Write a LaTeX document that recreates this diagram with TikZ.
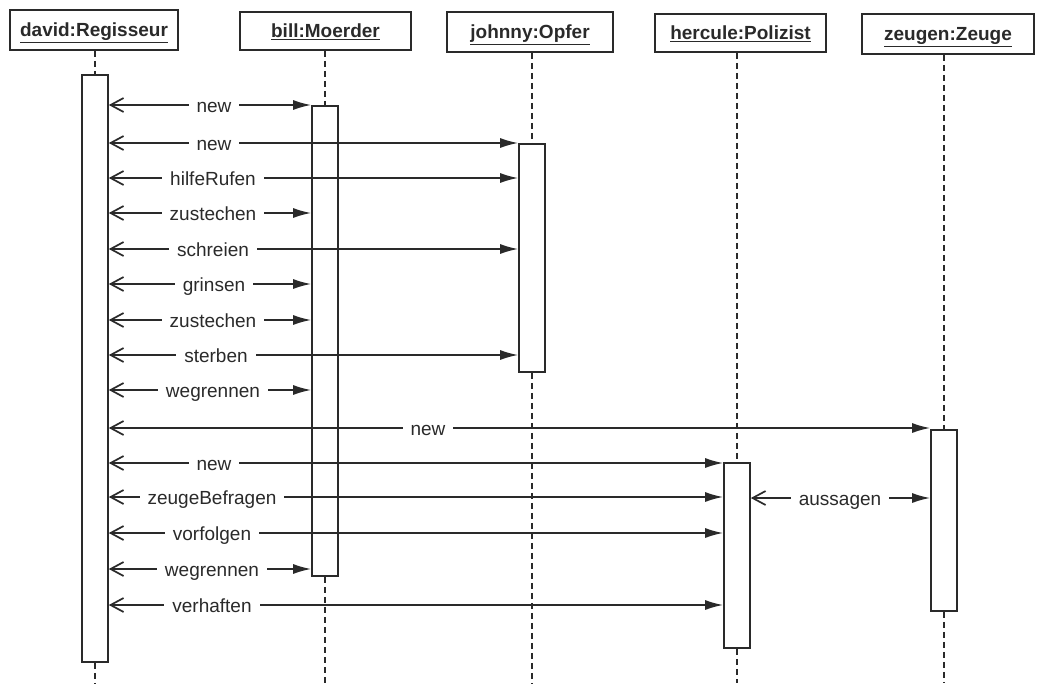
\documentclass[tikz,border=0pt]{standalone}
\usepackage{fontspec}
\setmainfont{Liberation Sans}
\usetikzlibrary{arrows.meta}
\definecolor{ink}{HTML}{2A2A2A}
\tikzset{
 head/.style={draw=ink, line width=1.9pt, inner sep=0pt, text height=13.7pt, text depth=0pt, font=\fontsize{19}{22}\selectfont\bfseries, text=ink},
 act/.style={draw=ink, line width=1.6pt, fill=white, inner sep=0pt, minimum width=26pt},
 life/.style={draw=ink, line width=1.7pt, dash pattern=on 6pt off 4pt},
 msg/.style={draw=ink, line width=1.7pt, {Straight Barb[length=13pt,width=14pt,line width=1.7pt]}-{Latex[length=18pt,width=10pt]}},
 lbl/.style={fill=white, inner xsep=8pt, inner ysep=1pt, anchor=base, font=\fontsize{19}{22}\selectfont, text=ink},
}
\newcommand\seqmsg[6]{%
 \draw[msg] (#3.east |- 0,#2) -- (#4.west |- 0,#2);
 \node[lbl] (#1) at (#5,#2+7.5) {#6};}
\begin{document}
\begin{tikzpicture}[x=1pt,y=-1pt]
\useasboundingbox (0,0) rectangle (1041,683);
% headers
\node[head, minimum width=168pt, minimum height=40pt] (hdav) at (94,30) {\underline{david:Regisseur}};
\node[head, minimum width=171pt, minimum height=38pt] (hbil) at (325.5,31) {\underline{bill:Moerder}};
\node[head, minimum width=166pt, minimum height=40pt] (hjoh) at (530,32) {\underline{johnny:Opfer}};
\node[head, minimum width=171pt, minimum height=38pt] (hher) at (740.5,33) {\underline{hercule:Polizist}};
\node[head, minimum width=172pt, minimum height=40pt] (hzeu) at (948,34) {\underline{zeugen:Zeuge}};
% activation boxes (positions)
\path (95,368.5) node[act, minimum height=587pt] (adav) {};
\path (325,341) node[act, minimum height=470pt] (abil) {};
\path (532,258) node[act, minimum height=228pt] (ajoh) {};
\path (737,555.5) node[act, minimum height=185pt] (aher) {};
\path (944,520.5) node[act, minimum height=181pt] (azeu) {};
% bottom ends
\coordinate (edav) at (95,683);
\coordinate (ebil) at (325,683);
\coordinate (ejoh) at (532,683);
\coordinate (eher) at (737,683);
\coordinate (ezeu) at (944,683);
% lifelines
\draw[life] (hdav.south -| adav.north) -- (adav.north);
\draw[life] (adav.south) -- (edav);
\draw[life] (hbil.south -| abil.north) -- (abil.north);
\draw[life] (abil.south) -- (ebil);
\draw[life] (hjoh.south -| ajoh.north) -- (ajoh.north);
\draw[life] (ajoh.south) -- (ejoh);
\draw[life] (hher.south -| aher.north) -- (aher.north);
\draw[life] (aher.south) -- (eher);
\draw[life] (hzeu.south -| azeu.north) -- (azeu.north);
\draw[life] (azeu.south) -- (ezeu);
% redraw boxes on top
\node[act, minimum height=587pt] at (adav) {};
\node[act, minimum height=470pt] at (abil) {};
\node[act, minimum height=228pt] at (ajoh) {};
\node[act, minimum height=185pt] at (aher) {};
\node[act, minimum height=181pt] at (azeu) {};
% messages
\seqmsg{m1}{105}{adav}{abil}{214}{new}
\seqmsg{m2}{143}{adav}{ajoh}{214}{new}
\seqmsg{m3}{178}{adav}{ajoh}{213}{hilfeRufen}
\seqmsg{m4}{213}{adav}{abil}{213}{zustechen}
\seqmsg{m5}{249}{adav}{ajoh}{213}{schreien}
\seqmsg{m6}{284}{adav}{abil}{214}{grinsen}
\seqmsg{m7}{320}{adav}{abil}{213}{zustechen}
\seqmsg{m8}{355}{adav}{ajoh}{216}{sterben}
\seqmsg{m9}{390}{adav}{abil}{213}{wegrennen}
\seqmsg{m10}{428}{adav}{azeu}{428}{new}
\seqmsg{m11}{463}{adav}{aher}{214}{new}
\seqmsg{m12}{497}{adav}{aher}{212}{zeugeBefragen}
\seqmsg{m13}{533}{adav}{aher}{212}{vorfolgen}
\seqmsg{m14}{569}{adav}{abil}{212}{wegrennen}
\seqmsg{m15}{605}{adav}{aher}{212}{verhaften}
\seqmsg{m16}{498}{aher}{azeu}{840}{aussagen}
\end{tikzpicture}
\end{document}
